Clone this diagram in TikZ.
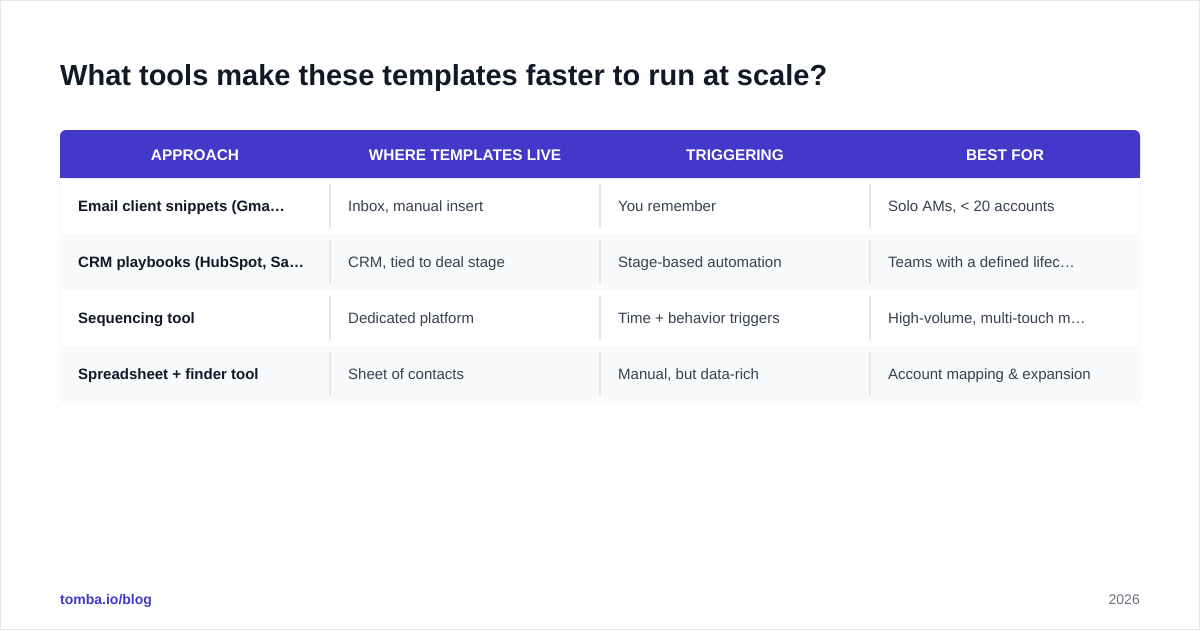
\documentclass[tikz,border=0pt]{standalone}
\usepackage{fontspec}
\setmainfont{Liberation Sans}
\usetikzlibrary{positioning}
\definecolor{headbg}{HTML}{4338CA}
\definecolor{ink}{HTML}{111827}
\definecolor{cellink}{HTML}{374151}
\definecolor{rowalt}{HTML}{F8FAFC}
\definecolor{rule}{HTML}{E5E7EB}
\definecolor{muted}{HTML}{6B7280}
\tikzset{
  headcell/.style={text=white, font=\fontsize{15.4}{18}\selectfont\bfseries, anchor=base, inner sep=0},
  firstcell/.style={text=ink, font=\fontsize{15}{18}\selectfont\bfseries, anchor=base west, inner sep=0},
  bodycell/.style={text=cellink, font=\fontsize{15}{18}\selectfont, anchor=base west, inner sep=0},
}
\begin{document}
\begin{tikzpicture}[x=1pt,y=-1pt]
  \useasboundingbox (0,0) rectangle (1200,630);
  \draw[rule] (0.5,0.5) rectangle (1199.5,629.5);

  \node[anchor=base west, text=ink, font=\fontsize{29}{35}\selectfont\bfseries, inner sep=0] (title) at (60,85) {What tools make these templates faster to run at scale?};

  % table frame
  \fill[white, draw=rule, rounded corners=6] (60,130) rectangle (1140,402);
  \fill[rowalt] (61,234) rectangle (1139,290);
  \fill[rowalt, rounded corners=6] (61,346) rectangle (1139,401);
  \fill[rowalt] (61,346) rectangle (1139,380);
  \fill[headbg, rounded corners=6] (60,130) rectangle (1140,178);
  \fill[headbg] (60,160) rectangle (1140,178);

  % header
  \node[headcell] (h1) at (195,160) {APPROACH};
  \node[headcell] (h2) at (465,160) {WHERE TEMPLATES LIVE};
  \node[headcell] (h3) at (735,160) {TRIGGERING};
  \node[headcell] (h4) at (1005,160) {BEST FOR};

  % separators
  \foreach \y in {178,234,290,346} {
    \foreach \x in {330,600,870} {
      \draw[rule, line width=1.2] (\x,\y+6) -- (\x,\y+50);
    }
  }

  % rows
  \node[firstcell] (a1) at (78,211) {Email client snippets (Gma…};
  \node[bodycell] (b1) at (348,211) {Inbox, manual insert};
  \node[bodycell] (c1) at (618,211) {You remember};
  \node[bodycell] (d1) at (888,211) {Solo AMs, < 20 accounts};

  \node[firstcell] (a2) at (78,267) {CRM playbooks (HubSpot, Sa…};
  \node[bodycell] (b2) at (348,267) {CRM, tied to deal stage};
  \node[bodycell] (c2) at (618,267) {Stage-based automation};
  \node[bodycell] (d2) at (888,267) {Teams with a defined lifec…};

  \node[firstcell] (a3) at (78,323) {Sequencing tool};
  \node[bodycell] (b3) at (348,323) {Dedicated platform};
  \node[bodycell] (c3) at (618,323) {Time + behavior triggers};
  \node[bodycell] (d3) at (888,323) {High-volume, multi-touch m…};

  \node[firstcell] (a4) at (78,379) {Spreadsheet + finder tool};
  \node[bodycell] (b4) at (348,379) {Sheet of contacts};
  \node[bodycell] (c4) at (618,379) {Manual, but data-rich};
  \node[bodycell] (d4) at (888,379) {Account mapping \& expansion};

  % footer
  \node[anchor=base west, text=headbg, font=\fontsize{14}{17}\selectfont\bfseries, inner sep=0] (site) at (60,604) {tomba.io/blog};
  \node[anchor=base east, text=muted, font=\fontsize{14}{17}\selectfont, inner sep=0] (year) at (1140,604) {2026};
\end{tikzpicture}
\end{document}
